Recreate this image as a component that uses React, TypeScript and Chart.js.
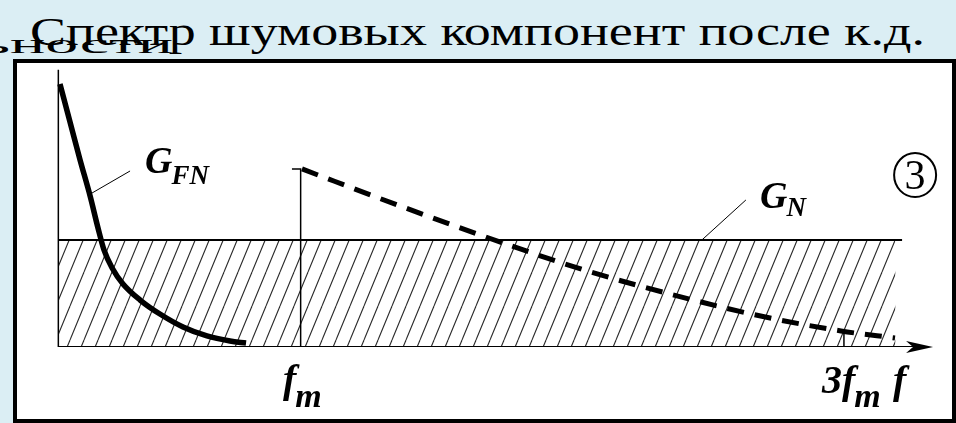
import React, { useEffect, useMemo, useRef } from "react";
import { Chart, registerables } from "chart.js";

Chart.register(...registerables);

const SERIF = '"Liberation Serif", "Times New Roman", serif';

// ---- text ----
const TITLE = "Спектр шумовых компонент после к.д.";
const PREV_TAIL = "ьности";

// ---- data (x in units of f_m, y in units of the white-noise level G_N) ----
const fnX = [0.114, 0.151, 0.188, 0.225, 0.254, 0.276, 0.306, 0.346, 0.409, 0.482, 0.567, 0.655, 0.74, 0.799];
const fnY = [2.458, 2.103, 1.748, 1.411, 1.112, 0.907, 0.738, 0.589, 0.439, 0.308, 0.187, 0.103, 0.056, 0.037];
const nX = [1.005, 1.366, 1.745, 2.043, 2.36, 2.676, 2.989, 3.188];
const nY = [1.664, 1.318, 0.972, 0.72, 0.495, 0.299, 0.15, 0.084];
const levelY = [1, 1];
const levelX = [0.108, 3.214];
const hatchX = [0.108, 3.19];
const axisX = [0.108, 3.31];
const yAxisTop = 2.59;
const fmX = 1;
const fmTop = 1.664;
const fmTickStart = 0.968;
const x3fm = 3;
const x3fmTickTop = 0.14;
const arrowTip = 3.328;

const tickMain = ["f", "3f"];
const tickSub = ["m", "m"];
const axisName = "f";
const fnLabel = ["G", "FN"];
const nLabel = ["G", "N"];
const circleLabel = "3";

const pts = (xs: number[], ys: number[]) => xs.map((x, i) => ({ x, y: ys[i] }));

function measure(text: string, font: string) {
  const c = document.createElement("canvas").getContext("2d")!;
  c.font = font;
  return c.measureText(text).width;
}

const annot = {
  id: "annot",
  afterDatasetsDraw(chart: any) {
    const { ctx, scales } = chart;
    const X = (v: number) => scales.x.getPixelForValue(v);
    const Y = (v: number) => scales.y.getPixelForValue(v);
    ctx.save();
    ctx.fillStyle = "#000";
    ctx.strokeStyle = "#000";
    ctx.textBaseline = "alphabetic";
    ctx.textAlign = "left";

    // arrow head
    const tx = X(arrowTip), ty = Y(0);
    ctx.beginPath();
    ctx.moveTo(tx, ty);
    ctx.lineTo(tx - 27, ty - 6);
    ctx.lineTo(tx - 20, ty);
    ctx.lineTo(tx - 27, ty + 6);
    ctx.closePath();
    ctx.fill();

    // leader lines
    ctx.lineWidth = 1;
    ctx.beginPath();
    ctx.moveTo(X(0.232), Y(1.439));
    ctx.lineTo(X(0.372), Y(1.645));
    ctx.moveTo(X(2.477), Y(1.0));
    ctx.lineTo(X(2.639), Y(1.374));
    ctx.stroke();

    const sub = (main: string, s: string, x: number, y: number, mainPx: number, subPx: number, drop: number) => {
      ctx.font = `bold italic ${mainPx}px ${SERIF}`;
      ctx.fillText(main, x, y);
      const w = ctx.measureText(main).width;
      ctx.font = `bold italic ${subPx}px ${SERIF}`;
      ctx.fillText(s, x + w - 1, y + drop);
    };

    sub(fnLabel[0], fnLabel[1], X(0.427), Y(1.626), 38, 27, 11);
    sub(nLabel[0], nLabel[1], X(2.691), Y(1.299), 38, 27, 8);

    // tick labels
    sub(tickMain[0], tickSub[0], X(0.935), Y(-0.421), 40, 34, 15);
    sub(tickMain[1], tickSub[1], X(2.919), Y(-0.43), 40, 34, 14);
    ctx.font = `bold italic 40px ${SERIF}`;
    ctx.fillText(axisName, X(3.181), Y(-0.43));

    // circled 3
    const cx = X(3.262), cy = Y(1.607);
    ctx.lineWidth = 2;
    ctx.beginPath();
    ctx.ellipse(cx, cy, 21, 22, 0, 0, Math.PI * 2);
    ctx.stroke();
    ctx.font = `42px ${SERIF}`;
    ctx.textAlign = "center";
    ctx.fillText(circleLabel, cx, cy + 14);
    ctx.restore();
  },
};

export default function App() {
  const ref = useRef<HTMLCanvasElement>(null);

  const text = useMemo(() => {
    const tw = measure(TITLE, `40px ${SERIF}`);
    const pFont = `28px ${SERIF}`;
    const pAll = measure(PREV_TAIL, pFont);
    const pSoft = measure(PREV_TAIL[0], pFont);
    const ps = 163 / (pAll - pSoft);
    return { ts: 895 / tw, ps, pLeft: 10 - pSoft * ps };
  }, []);

  useEffect(() => {
    document.body.style.margin = "0";
    document.body.style.overflow = "hidden";
    const canvas = ref.current!;
    const ctx = canvas.getContext("2d")!;

    const tile = document.createElement("canvas");
    tile.width = 14;
    tile.height = 34;
    const t = tile.getContext("2d")!;
    t.fillStyle = "#fff";
    t.fillRect(0, 0, 14, 34);
    t.strokeStyle = "#2a2a2a";
    t.lineWidth = 1.1;
    for (const dx of [-14, 0, 14]) {
      t.beginPath();
      t.moveTo(dx, 34);
      t.lineTo(dx + 14, 0);
      t.stroke();
    }
    const pattern = ctx.createPattern(tile, "repeat")!;

    const base = { pointRadius: 0, borderColor: "#000", fill: false, tension: 0 };
    const chart = new Chart(canvas, {
      type: "line",
      data: {
        datasets: [
          { ...base, data: pts(fnX, fnY), borderWidth: 5.5, tension: 0.4, cubicInterpolationMode: "monotone", order: 1 } as any,
          { ...base, data: pts(nX, nY), borderWidth: 5, borderDash: [17, 11], tension: 0.4, cubicInterpolationMode: "monotone", order: 2 } as any,
          { ...base, data: pts(levelX, levelY), borderWidth: 2, order: 3 },
          { ...base, data: [{ x: axisX[0], y: 0 }, { x: axisX[0], y: yAxisTop }], borderWidth: 1.5, order: 3 },
          { ...base, data: [{ x: fmTickStart, y: fmTop }, { x: fmX, y: fmTop }, { x: fmX, y: 0 }], borderWidth: 1.5, order: 3 },
          { ...base, data: [{ x: x3fm, y: 0 }, { x: x3fm, y: x3fmTickTop }], borderWidth: 1.5, order: 3 },
          { ...base, data: pts(axisX, [0, 0]), borderWidth: 2, order: 3 },
          { ...base, data: pts(hatchX, levelY), borderWidth: 0, fill: "origin", backgroundColor: pattern, order: 10 },
        ],
      },
      options: {
        responsive: false,
        animation: false,
        devicePixelRatio: 1,
        events: [],
        layout: { padding: { left: 29, right: 3.4, top: 26, bottom: 76 } },
        scales: {
          x: { type: "linear", min: 0, max: 3.4, display: false },
          y: { type: "linear", min: 0, max: 3, display: false },
        },
        plugins: { legend: { display: false }, tooltip: { enabled: false }, title: { display: false } },
      },
      plugins: [annot],
    });
    return () => chart.destroy();
  }, []);

  return (
    <div style={{ position: "relative", width: 956, height: 423, overflow: "hidden", background: "#dbeef4" }}>
      <span
        style={{
          position: "absolute", left: text.pLeft, top: 29.9, fontFamily: SERIF, fontSize: 28,
          lineHeight: "28px", whiteSpace: "nowrap", color: "#000", transform: `scaleX(${text.ps})`, transformOrigin: "left top",
        }}
      >
        {PREV_TAIL}
      </span>
      <span
        style={{
          position: "absolute", left: 30, top: 11.5, fontFamily: SERIF, fontSize: 40,
          lineHeight: "40px", whiteSpace: "nowrap", color: "#000", transform: `scaleX(${text.ts})`, transformOrigin: "left top",
        }}
      >
        {TITLE}
      </span>
      <div
        style={{
          position: "absolute", left: 13, top: 59, width: 943, height: 364, boxSizing: "border-box",
          border: "4px solid #000", background: "#fff",
        }}
      />
      <canvas ref={ref} width={956} height={423} style={{ position: "absolute", left: 0, top: 0, width: 956, height: 423 }} />
    </div>
  );
}
